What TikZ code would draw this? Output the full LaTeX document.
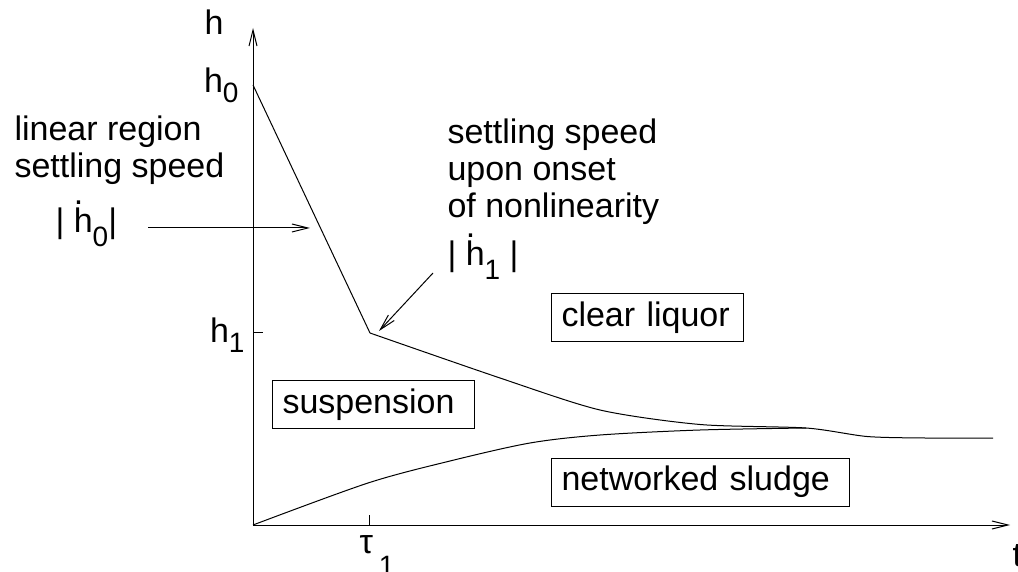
\documentclass[tikz,border=0pt]{standalone}
\usepackage{fontspec}
\setmainfont{Liberation Sans}
\usetikzlibrary{arrows.meta}
\newcommand{\lowidx}[2]{\raisebox{-#1}{\fontsize{14pt}{14pt}\selectfont #2}}
\newcommand{\hdot}{\makebox[0pt][l]{\smash{\raisebox{14pt}{.}}}h}

\begin{document}
\begin{tikzpicture}[x=0.5pt,y=-0.5pt,line width=0.5pt,font=\fontsize{17pt}{18.5pt}\selectfont,
    tip/.style={-{Straight Barb[length=8pt,width=4pt]}},
    region/.style={draw,anchor=west,align=left,inner xsep=5pt,minimum height=24pt},
    txt/.style={inner sep=0pt}]
  \useasboundingbox (0,0) rectangle (1018,572);
  \coordinate (o) at (253,525);
  \coordinate (ytop) at (253,28);
  \coordinate (xend) at (1010,525);
  \coordinate (h0pt) at (253,85);
  \coordinate (k1) at (370,333);
  \coordinate (meet) at (806,428);
  \coordinate (a0) at (148,228);
  \coordinate (p0) at (310,228);
  \coordinate (a1) at (433,273);
  \coordinate (p1) at (379,331);
  \draw[tip] (o) -- (ytop);
  \draw[tip] (o) -- (xend);
  \draw (253,333) -- (263,333);
  \draw (369,525) -- (369,515);
  \node[txt,anchor=base] (hlab) at (214,35) {h};
  \node[txt,anchor=base east] (h0lab) at (239,93) {h\lowidx{5pt}{0}};
  \node[txt,anchor=base east] (h1lab) at (245,343) {h\lowidx{5pt}{1}};
  \node[txt,anchor=base west] (taulab) at (359,553) {τ\hspace{3pt}\lowidx{11pt}{1}};
  \node[txt,anchor=base west] (tlab) at (1012,566) {t};
  \draw (h0pt) -- (k1);
  \draw plot[smooth,tension=0.45] coordinates {(370,333) (500,378) (600,410) (700,424.5) (806,428) (867,436.5) (925,438) (993,438)};
  \draw plot[smooth,tension=0.5] coordinates {(253,525) (368,483) (450,461) (530,443) (600,435) (700,430) (806,428)};
  \node[txt,anchor=base west,align=left] (linnote) at (14,178) {linear region\\settling speed};
  \node[txt,anchor=base west] (rate0) at (55,233) {| \hdot\lowidx{7pt}{0}|};
  \draw[tip] (a0) -- (p0);
  \node[txt,anchor=base west,align=left] (nonlinnote) at (447,218) {settling speed\\upon onset\\of nonlinearity};
  \node[txt,anchor=base west] (rate1) at (447,266) {| \hdot\lowidx{7pt}{1} |};
  \draw[tip] (a1) -- (p1);
  \node[region,text width=86pt] (clear) at (551,318) {clear liquor};
  \node[region,text width=91pt] (susp) at (272,404.5) {suspension};
  \node[region,text width=139pt] (sludge) at (551,482) {networked sludge};
\end{tikzpicture}
\end{document}
